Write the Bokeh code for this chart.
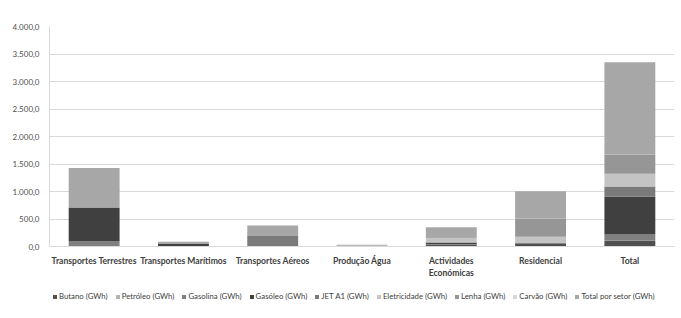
from bokeh.plotting import figure
from bokeh.models import Legend, LegendItem, FixedTicker, ColumnDataSource, Range1d
from bokeh.layouts import column
from bokeh.embed import file_html
from bokeh.resources import INLINE

categories = ["Transportes Terrestres", "Transportes Marítimos", "Transportes Aéreos",
              "Produção Água", "Actividades\nEconómicas", "Residencial", "Total"]

butano       = [0,   0,   0,   0,  30,  58,   98]
petroleo     = [0,   0,   0,   0,   3,   4,    7]
gasolina     = [98,  6,   0,   0,   8,   0,  112]
gasoleo      = [612, 38,  0,   0,  30,   0,  690]
jet_a1       = [0,   0, 192,   0,   0,   0,  185]
eletricidade = [0,   0,   0,  15,  90, 115,  230]
lenha        = [0,   0,   0,   0,  12, 322,  342]
carvao       = [0,   0,   0,   0,   2,   4,    6]
total_setor  = [716, 44, 192,  15, 175, 503, 1680]

series_names = ["Butano (GWh)", "Petróleo (GWh)", "Gasolina (GWh)", "Gasóleo (GWh)",
                "JET A1 (GWh)", "Eletricidade (GWh)", "Lenha (GWh)", "Carvão (GWh)",
                "Total por setor (GWh)"]
keys = ["butano", "petroleo", "gasolina", "gasoleo", "jet", "elet", "lenha", "carvao", "total"]
colors = ["#4f4f4f", "#b4b4b4", "#808080", "#404040", "#7a7a7a", "#c4c4c4", "#969696",
          "#d6d6d6", "#a7a7a7"]

y_ticks = [0, 500, 1000, 1500, 2000, 2500, 3000, 3500, 4000]
y_labels = ["0,0", "500,0", "1.000,0", "1.500,0", "2.000,0", "2.500,0", "3.000,0",
            "3.500,0", "4.000,0"]

src = ColumnDataSource(dict(cat=categories, butano=butano, petroleo=petroleo,
                            gasolina=gasolina, gasoleo=gasoleo, jet=jet_a1,
                            elet=eletricidade, lenha=lenha, carvao=carvao,
                            total=total_setor))

p = figure(x_range=categories, y_range=Range1d(0, 4000), output_backend="svg",
           toolbar_location=None, width=681, height=282,
           min_border_top=26, min_border_left=49, min_border_right=7, min_border_bottom=36)

renderers = p.vbar_stack(keys, x="cat", width=0.57, color=colors, source=src,
                         line_color=None)

p.outline_line_color = None
p.background_fill_color = "white"
p.xgrid.grid_line_color = None
p.ygrid.grid_line_color = "#d9d9d9"
p.ygrid.grid_line_width = 1

p.yaxis.ticker = FixedTicker(ticks=y_ticks)
p.yaxis.major_label_overrides = {t: l for t, l in zip(y_ticks, y_labels)}
p.yaxis.axis_line_color = "#d9d9d9"
p.yaxis.major_tick_line_color = None
p.yaxis.minor_tick_line_color = None
p.yaxis.major_label_text_font = "Lato"
p.yaxis.major_label_text_font_size = "8px"
p.yaxis.major_label_text_color = "#505050"
p.yaxis.major_label_standoff = 4

p.xaxis.axis_line_color = "#d9d9d9"
p.xaxis.major_tick_line_color = None
p.xaxis.minor_tick_line_color = None
p.xaxis.major_label_text_font = "Lato"
p.xaxis.major_label_text_font_size = "8.6px"
p.xaxis.major_label_text_font_style = "bold"
p.xaxis.major_label_text_color = "#404040"
p.xaxis.major_label_standoff = 3

# Legend strip below the chart (its frame is aligned with the chart's frame)
lf = figure(x_range=Range1d(0, 1), y_range=Range1d(0, 1), output_backend="svg",
            toolbar_location=None, width=681, height=28,
            x_axis_location=None, y_axis_location=None,
            min_border_top=0, min_border_left=0, min_border_right=0, min_border_bottom=0)
lf.grid.visible = False
lf.outline_line_color = None
leg_renderers = [lf.vbar(x=[-5], top=[-4], bottom=[-5], width=0.5, color=c,
                         line_color=None) for c in colors]
items = [LegendItem(label=n, renderers=[r]) for n, r in zip(series_names, leg_renderers)]
legend = Legend(items=items, orientation="horizontal", location=(3, 9),
                label_text_font="Lato", label_text_font_size="7.8px",
                label_text_color="#404040", glyph_width=5, glyph_height=5,
                label_standoff=2, spacing=7, padding=0, margin=0,
                border_line_color=None, background_fill_alpha=0,
                label_height=8)
lf.add_layout(legend, "center")

layout = column(p, lf, spacing=0)
open("out.html", "w").write(file_html(layout, INLINE))
